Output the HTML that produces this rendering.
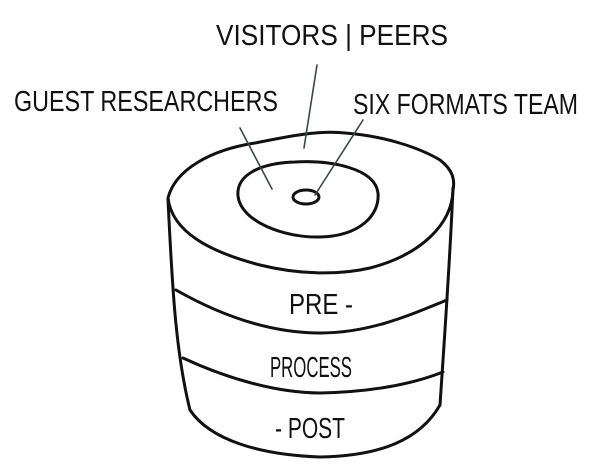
<!DOCTYPE html>
<html><head><style>
html,body{margin:0;padding:0;background:#fff;}
svg{display:block;}
text{font-family:"Liberation Sans",sans-serif;font-size:29px;fill:#111;}
</style></head><body>
<svg width="600" height="469" viewBox="0 0 600 469">
<g fill="none" stroke="#111" stroke-width="3" stroke-linecap="round" stroke-linejoin="round">
<!-- top outer -->
<path d="M168,198 C175,170 210,150 255,143 C290,136 320,130 345,133 C385,136 420,148 440,160 C453,170 455,180 453,190 C452,225 420,255 370,268 C340,275 300,275 260,265 C210,252 172,232 168,198 Z"/>
<!-- inner -->
<path d="M238,196 C236,175 260,163 295,162 C330,160 375,168 378,193 C380,215 360,236 320,237 C285,238 241,222 238,196 Z"/>
<!-- small -->
<ellipse cx="306" cy="197" rx="13" ry="7"/>
<!-- sides -->
<path d="M168,200 C172,280 175,350 190,410 C210,440 260,455 320,457 C380,456 420,440 440,405 C445,330 450,260 453,188"/>
<!-- bands -->
<path d="M176,290 C220,315 270,333 320,333 C370,333 410,315 447,300"/>
<path d="M183,358 C230,380 280,393 320,393 C370,392 410,385 443,372"/>
</g>
<g stroke="#3a4848" stroke-width="1.6" stroke-linecap="round">
<line x1="240" y1="128" x2="272" y2="189"/>
<line x1="317" y1="65" x2="304" y2="148"/>
<line x1="363" y1="120" x2="315" y2="195"/>
</g>
<text x="216" y="45" textLength="232" lengthAdjust="spacingAndGlyphs">VISITORS | PEERS</text>
<text x="14" y="111" textLength="264" lengthAdjust="spacingAndGlyphs">GUEST RESEARCHERS</text>
<text x="353" y="114" textLength="225" lengthAdjust="spacingAndGlyphs">SIX FORMATS TEAM</text>
<text x="289" y="314" textLength="64" lengthAdjust="spacingAndGlyphs">PRE -</text>
<text x="270" y="377" textLength="82" lengthAdjust="spacingAndGlyphs">PROCESS</text>
<text x="275" y="438" textLength="70" lengthAdjust="spacingAndGlyphs">- POST</text>
</svg>
</body></html>
